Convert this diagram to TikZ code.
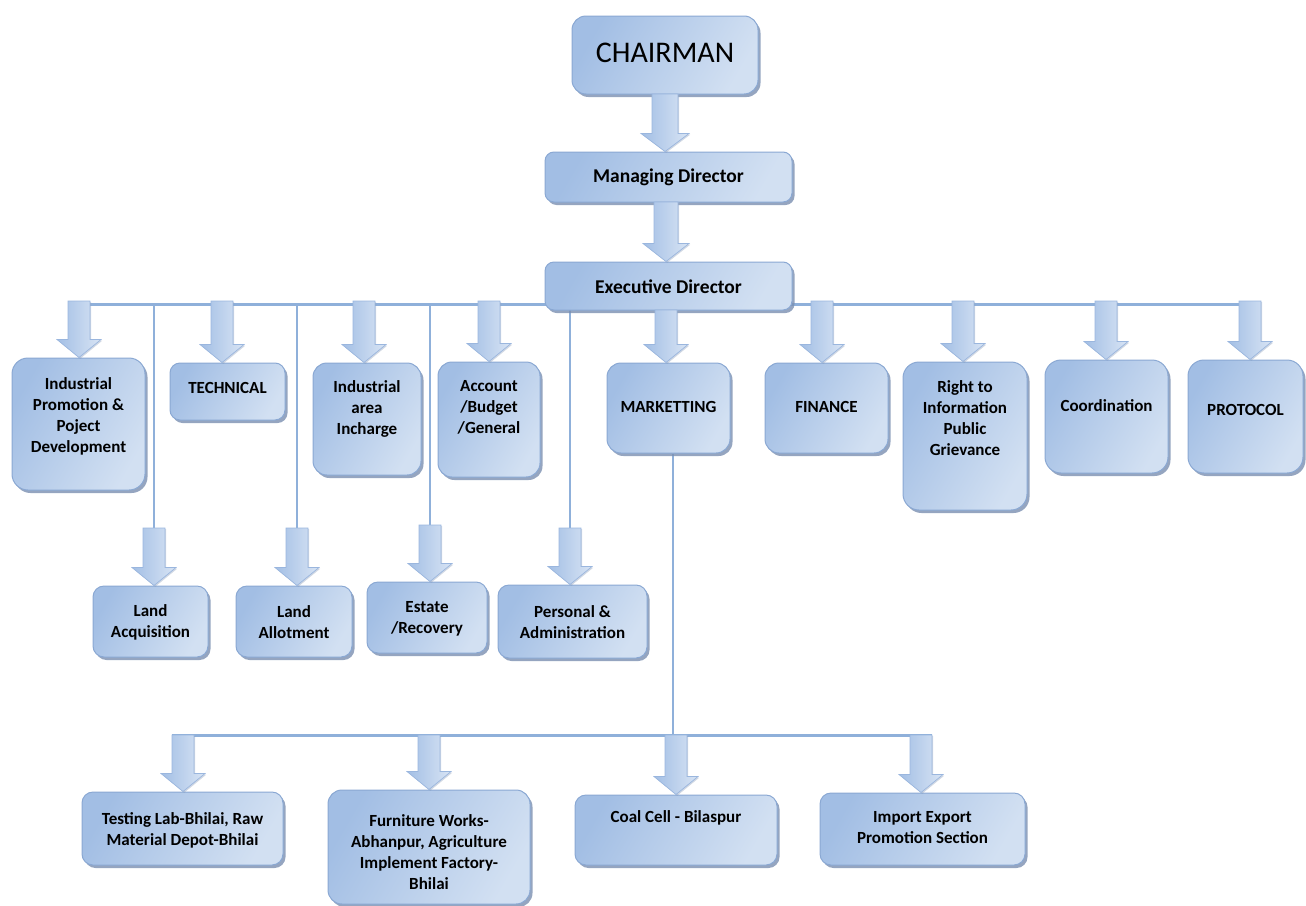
\documentclass[tikz,border=0pt]{standalone}
\usepackage{fontspec}
\setmainfont{Carlito}
\usetikzlibrary{shadows,calc}

\definecolor{lineblue}{HTML}{8FB0DA}
\definecolor{boxdark}{HTML}{A2BEE4}
\definecolor{boxlight}{HTML}{D2E0F2}
\definecolor{boxedge}{HTML}{8AA8D3}
\definecolor{shadowblue}{HTML}{7A8FB0}
\definecolor{arrowdark}{HTML}{A3BFE5}
\definecolor{arrowlight}{HTML}{D8E4F4}
\definecolor{arrowedge}{HTML}{9AB6DE}

\pgfdeclarelayer{background}
\pgfsetlayers{background,main}

\tikzset{
  orgbox/.style={draw=boxedge, line width=1pt, rounded corners=12pt,
    left color=boxdark, right color=boxlight, shading angle=60,
    drop shadow={shadow xshift=2.5pt, shadow yshift=-3pt, fill=shadowblue, opacity=0.8},
    inner sep=0pt},
  label17/.style={align=center, inner sep=0pt, font=\fontsize{17}{21}\selectfont\bfseries},
  label18/.style={align=center, inner sep=0pt, font=\fontsize{19.5}{23}\selectfont\bfseries},
  label30/.style={align=center, inner sep=0pt, font=\fontsize{30}{36}\selectfont},
  conn/.style={draw=lineblue, line width=3pt},
  thinconn/.style={draw=lineblue, line width=2.5pt},
  arrowshape/.style={draw=arrowedge, line width=0.7pt, left color=arrowdark, right color=arrowlight,
    drop shadow={shadow xshift=1.2pt, shadow yshift=-1.2pt, fill=shadowblue, opacity=0.35}}
}

% block arrow from a start coordinate down to the top edge of a box
% #1 start, #2 target node, #3 half shaft width, #4 half head width
\newcommand\blockarrow[4]{%
  \path[arrowshape] let \p1=(#1), \p2=(#2.north) in
    (\x1-#3,\y1) -- (\x1+#3,\y1) -- (\x1+#3,\y2+18pt) -- (\x1+#4,\y2+18pt)
    -- (\x1,\y2) -- (\x1-#4,\y2+18pt) -- (\x1-#3,\y2+18pt) -- cycle;}

\begin{document}
\begin{tikzpicture}[x=1pt,y=-1pt]
\useasboundingbox (0,0) rectangle (1306,905);

% ---------- top of the hierarchy ----------
\node[orgbox, rounded corners=14pt, minimum width=186pt, minimum height=78pt] (ch) at (665,55) {};
\node[label30] (ch-t) at (665,53) {CHAIRMAN};

\node[orgbox, rounded corners=9pt, minimum width=247pt, minimum height=50pt] (md) at (668.5,177) {};
\node[label18] (md-t) at (668.5,177) {Managing Director};

\node[orgbox, rounded corners=9pt, minimum width=247pt, minimum height=48pt] (ed) at (668.5,286) {};
\node[label18] (ed-t) at (668.5,287) {Executive Director};

% ---------- first row of departments ----------
\node[orgbox, rounded corners=16pt, minimum width=133pt, minimum height=132pt] (ip) at (78.5,424) {};
\node[label17] (ip-t) at (78.5,416) {Industrial\\Promotion \&\\Poject\\Development};

\node[orgbox, rounded corners=10pt, minimum width=115pt, minimum height=57pt] (te) at (227.5,391.5) {};
\node[label17] (te-t) at (227.5,388) {TECHNICAL};

\node[orgbox, rounded corners=14pt, minimum width=108pt, minimum height=112pt] (ia) at (367,419) {};
\node[label17] (ia-t) at (367,409) {Industrial\\area\\Incharge};

\node[orgbox, rounded corners=14pt, minimum width=102pt, minimum height=115pt] (ac) at (489,419.5) {};
\node[label17] (ac-t) at (489,407) {Account\\/Budget\\/General};

\node[orgbox, rounded corners=14pt, minimum width=123pt, minimum height=90pt] (mk) at (668.5,408) {};
\node[label17] (mk-t) at (668.5,407) {MARKETTING};

\node[orgbox, rounded corners=14pt, minimum width=123pt, minimum height=90pt] (fi) at (826.5,408) {};
\node[label17] (fi-t) at (826.5,407) {FINANCE};

\node[orgbox, rounded corners=16pt, minimum width=124pt, minimum height=148pt] (rt) at (965,436) {};
\node[label17] (rt-t) at (965,418) {Right to\\Information\\Public\\Grievance};

\node[orgbox, rounded corners=16pt, minimum width=123pt, minimum height=113pt] (co) at (1106.5,416.5) {};
\node[label17] (co-t) at (1106.5,406) {Coordination};

\node[orgbox, rounded corners=16pt, minimum width=115pt, minimum height=113pt] (pr) at (1245.5,416.5) {};
\node[label17] (pr-t) at (1245.5,410) {PROTOCOL};

% ---------- second row of departments ----------
\node[orgbox, rounded corners=11pt, minimum width=115pt, minimum height=71pt] (la) at (150.5,621.5) {};
\node[label17] (la-t) at (150.5,622) {Land\\Acquisition};

\node[orgbox, rounded corners=11pt, minimum width=116pt, minimum height=71pt] (ll) at (294,621.5) {};
\node[label17] (ll-t) at (294,622) {Land\\Allotment};

\node[orgbox, rounded corners=11pt, minimum width=120pt, minimum height=71pt] (er) at (427,617.5) {};
\node[label17] (er-t) at (427,619) {Estate\\/Recovery};

\node[orgbox, rounded corners=11pt, minimum width=149pt, minimum height=73pt] (pa) at (572.5,621.5) {};
\node[label17] (pa-t) at (572.5,622) {Personal \&\\Administration};

% ---------- marketing units ----------
\node[orgbox, rounded corners=11pt, minimum width=201pt, minimum height=73pt] (tl) at (182.5,828.5) {};
\node[label17] (tl-t) at (182.5,830) {Testing Lab-Bhilai, Raw\\Material Depot-Bhilai};

\node[orgbox, rounded corners=14pt, minimum width=202pt, minimum height=114pt] (fw) at (429,847) {};
\node[label17] (fw-t) at (429,852) {Furniture Works-\\Abhanpur, Agriculture\\Implement Factory-\\Bhilai};

\node[orgbox, rounded corners=11pt, minimum width=202pt, minimum height=70pt] (cc) at (676,830) {};
\node[label17] (cc-t) at (676,818) {Coal Cell - Bilaspur};

\node[orgbox, rounded corners=11pt, minimum width=205pt, minimum height=72pt] (ie) at (922.5,829) {};
\node[label17] (ie-t) at (922.5,828) {Import Export\\Promotion Section};

% ---------- connector lines ----------
\coordinate (barL) at (68,304);
\coordinate (barR) at (1259,304);
\coordinate (la-d) at (154,304); \coordinate (la-s) at (154,528);
\coordinate (ll-d) at (297,304); \coordinate (ll-s) at (297,528);
\coordinate (er-d) at (430,304); \coordinate (er-s) at (430,525);
\coordinate (pa-d) at (570,304); \coordinate (pa-s) at (570,528);
\coordinate (mk-d) at (673,735);
\coordinate (bbL) at (172,735);
\coordinate (bbR) at (932,735);

\begin{pgfonlayer}{background}
  \draw[conn] (barL) -- (barR);
  \draw[thinconn] (la-d) -- (la-s);
  \draw[thinconn] (ll-d) -- (ll-s);
  \draw[thinconn] (er-d) -- (er-s);
  \draw[thinconn] (pa-d) -- (pa-s);
  \draw[thinconn] (mk.south -| mk-d) -- (mk-d);
  \draw[conn] (bbL) -- (bbR);
\end{pgfonlayer}

% ---------- block arrows ----------
\coordinate (ch-s) at (665,94);
\coordinate (md-s) at (666,202);
\blockarrow{ch-s}{md}{13pt}{24pt}
\blockarrow{md-s}{ed}{12pt}{23pt}

\coordinate (ip-s) at (79,301);
\coordinate (te-s) at (222,301);
\coordinate (ia-s) at (364,301);
\coordinate (ac-s) at (489,301);
\coordinate (mk-s) at (666,310);
\coordinate (fi-s) at (822,301);
\coordinate (rt-s) at (963,301);
\coordinate (co-s) at (1106,301);
\coordinate (pr-s) at (1250,301);
\foreach \bx in {ip,te,ia,ac,mk,fi,rt,co,pr}{\blockarrow{\bx-s}{\bx}{11pt}{22pt}}

\foreach \bx in {la,ll,er,pa}{\blockarrow{\bx-s}{\bx}{11pt}{22pt}}

\coordinate (tl-s) at (183,735);
\coordinate (fw-s) at (429,735);
\coordinate (cc-s) at (676,735);
\coordinate (ie-s) at (921,735);
\foreach \bx in {tl,fw,cc,ie}{\blockarrow{\bx-s}{\bx}{11pt}{22pt}}

\end{tikzpicture}
\end{document}
